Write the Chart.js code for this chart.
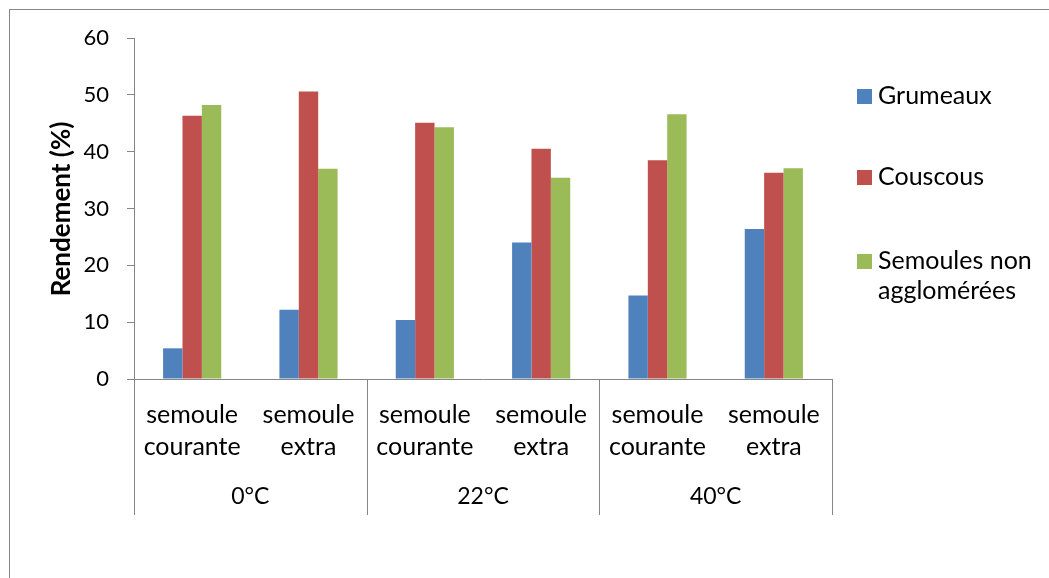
<!DOCTYPE html>
<html>
<head>
<meta charset="utf-8">
<script src="https://cdn.jsdelivr.net/npm/chart.js@4/dist/chart.umd.min.js"></script>
<style>
  html, body { margin: 0; padding: 0; background: #fff; }
  #wrap { width: 1049px; height: 578px; }
</style>
</head>
<body>
<div id="wrap"><canvas id="chart" width="1049" height="578"></canvas></div>
<script>
// ===== data =====
const groups = ["0°C", "22°C", "40°C"];
const categories = [
  ["semoule", "courante"], ["semoule", "extra"],
  ["semoule", "courante"], ["semoule", "extra"],
  ["semoule", "courante"], ["semoule", "extra"]
];
const grumeaux = [5.4, 12.2, 10.4, 24.0, 14.7, 26.4];
const couscous = [46.3, 50.6, 45.1, 40.5, 38.5, 36.3];
const semoules = [48.2, 37.0, 44.3, 35.4, 46.6, 37.1];
const seriesNames = ["Grumeaux", "Couscous", ["Semoules non", "agglomérées"]];
const yTicks = [0, 10, 20, 30, 40, 50, 60];

const FONT = "Lato, 'Open Sans', sans-serif";
const GREY = "#868686";
const colors = { blue: "#4F81BD", red: "#C0504D", green: "#9BBB59" };

// ===== dessin des extras (cadre, catégories groupées, légende, titre Y) =====
const extras = {
  id: "extras",
  afterDraw(chart) {
    const ctx = chart.ctx, x = chart.scales.x, area = chart.chartArea;
    ctx.save();
    // cadre
    ctx.strokeStyle = GREY; ctx.lineWidth = 1;
    ctx.strokeRect(9.5, 9.5, 1100, 700);
    // séparateurs de groupes
    const n = categories.length, per = n / groups.length;
    const bounds = [];
    for (let g = 0; g <= groups.length; g++) {
      const i = g * per;
      let px;
      if (i === 0) px = area.left;
      else if (i === n) px = area.right;
      else px = (x.getPixelForValue(i - 1) + x.getPixelForValue(i)) / 2;
      bounds.push(px);
    }
    ctx.beginPath();
    bounds.forEach(b => { ctx.moveTo(Math.round(b) + 0.5, area.bottom); ctx.lineTo(Math.round(b) + 0.5, 515); });
    ctx.stroke();
    // libellés des groupes
    ctx.fillStyle = "#000"; ctx.font = "23px " + FONT;
    ctx.textAlign = "center"; ctx.textBaseline = "middle";
    groups.forEach((g, k) => ctx.fillText(g, (bounds[k] + bounds[k + 1]) / 2, 497));
    // titre axe Y
    ctx.save();
    ctx.translate(62, 209);
    ctx.rotate(-Math.PI / 2);
    ctx.font = "bold 26px " + FONT;
    ctx.fillText("Rendement (%)", 0, 0);
    ctx.restore();
    // légende
    const legendY = [96, 177, 261];
    ctx.textAlign = "left"; ctx.font = "25px " + FONT;
    chart.data.datasets.forEach((ds, k) => {
      ctx.fillStyle = ds.backgroundColor;
      ctx.fillRect(857, legendY[k] - 7, 15, 15);
      ctx.fillStyle = "#000";
      const lines = Array.isArray(seriesNames[k]) ? seriesNames[k] : [seriesNames[k]];
      lines.forEach((t, j) => ctx.fillText(t, 878, legendY[k] + j * 30));
    });
    ctx.restore();
  }
};

new Chart(document.getElementById("chart"), {
  type: "bar",
  data: {
    labels: categories,
    datasets: [
      { label: "Grumeaux", data: grumeaux, backgroundColor: colors.blue },
      { label: "Couscous", data: couscous, backgroundColor: colors.red },
      { label: "Semoules non agglomérées", data: semoules, backgroundColor: colors.green }
    ]
  },
  options: {
    responsive: false,
    animation: false,
    devicePixelRatio: 1,
    layout: { padding: { top: 38, right: 217, left: 0, bottom: 0 } },
    datasets: { bar: { categoryPercentage: 0.5, barPercentage: 1 } },
    plugins: { legend: { display: false }, tooltip: { enabled: false } },
    scales: {
      x: {
        afterFit: s => { s.height = 199; },
        grid: { display: false },
        border: { color: GREY, width: 1 },
        ticks: { color: "#000", font: { family: FONT, size: 25, lineHeight: "32px" }, padding: 12, maxRotation: 0, autoSkip: false }
      },
      y: {
        min: 0, max: 60,
        afterFit: s => { s.width = 134; },
        afterBuildTicks: s => { s.ticks = yTicks.map(v => ({ value: v })); },
        grid: { drawOnChartArea: false, drawTicks: true, tickLength: 7, color: GREY },
        border: { color: GREY, width: 1 },
        ticks: { color: "#000", font: { family: FONT, size: 22 }, padding: 18 }
      }
    }
  },
  plugins: [extras]
});
</script>
</body>
</html>
